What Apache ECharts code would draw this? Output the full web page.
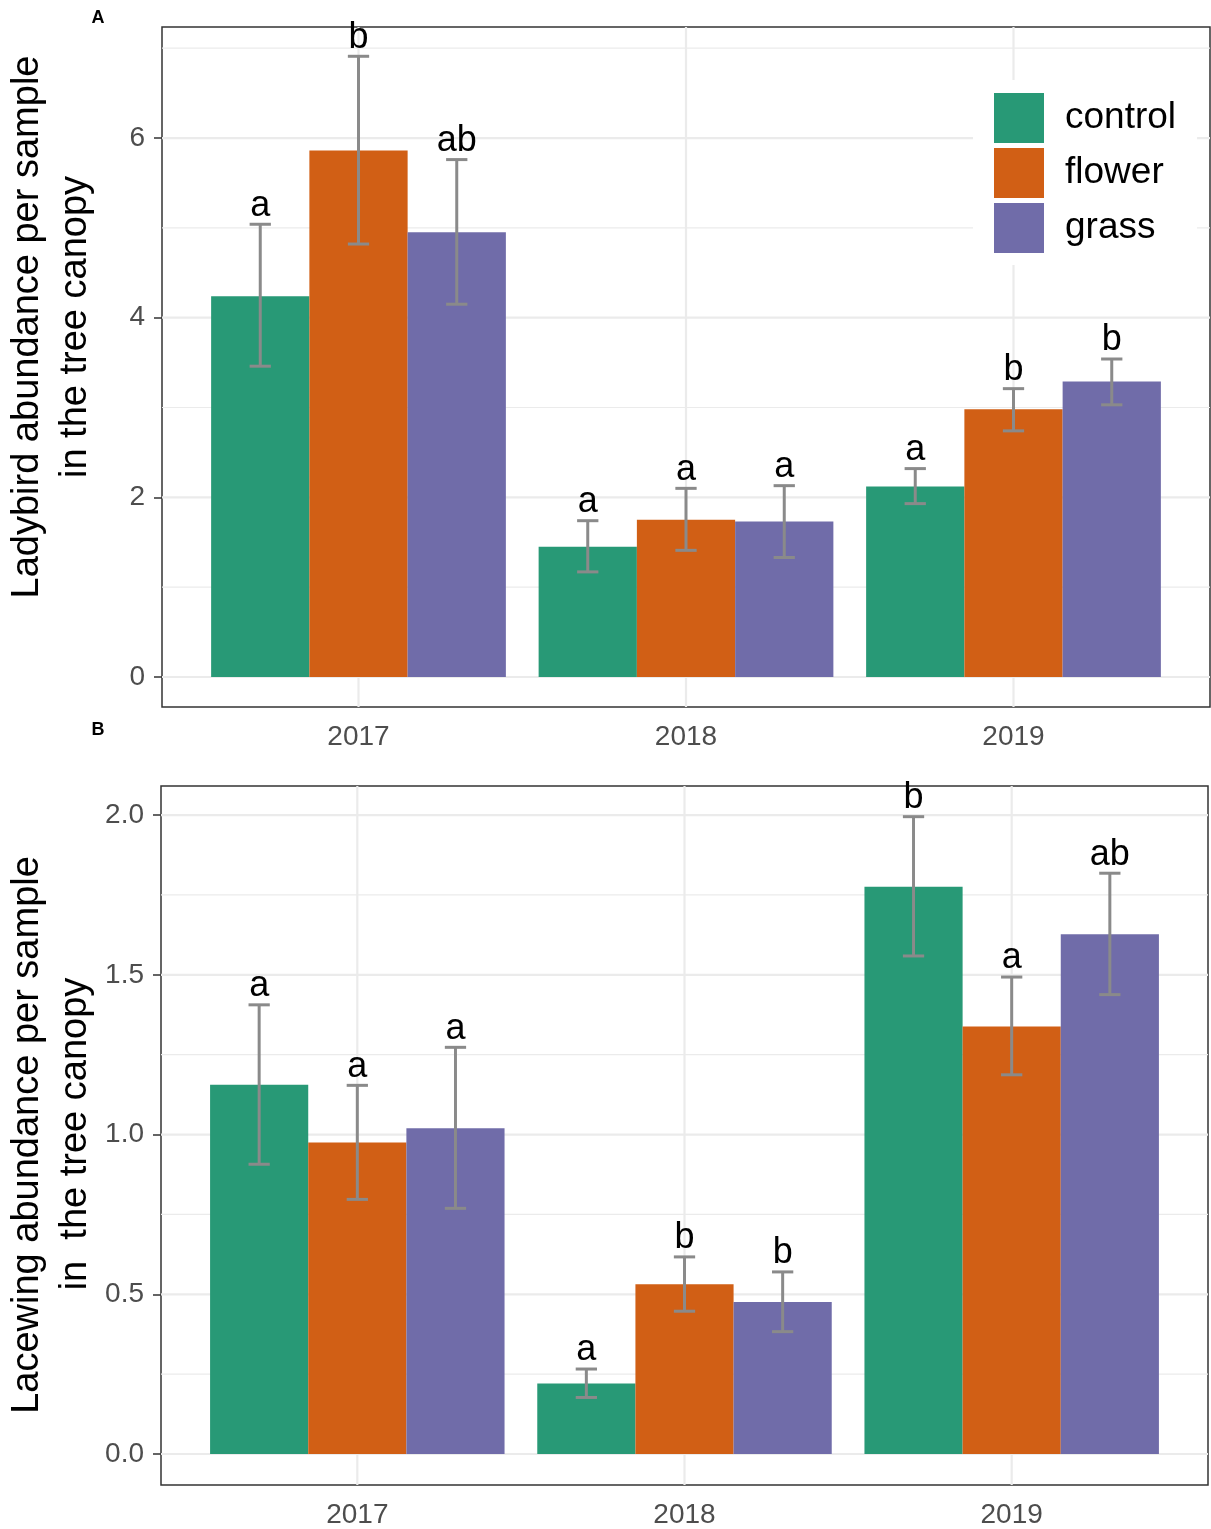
<!DOCTYPE html>
<html>
<head>
<meta charset="utf-8">
<script src="https://cdn.jsdelivr.net/npm/echarts@6/dist/echarts.min.js"></script>
<style>
html, body { margin: 0; padding: 0; background: #ffffff; }
#chart { width: 1211px; height: 1529px; }
</style>
</head>
<body>
<div id="chart"></div>
<script>
// Sampling years and field margin treatments
const years = ['2017', '2018', '2019'];
const treatments = ['control', 'flower', 'grass'];
const treatmentColors = ['#289976', '#d15f15', '#706ca9'];

// A: ladybird abundance per sample (mean, [lower, upper] error, letters)
const ladybirdControl = [4.24, 1.45, 2.12];
const ladybirdFlower = [5.86, 1.75, 2.98];
const ladybirdGrass = [4.95, 1.73, 3.29];
const ladybirdControlErr = [[3.46, 5.04], [1.17, 1.74], [1.93, 2.32]];
const ladybirdFlowerErr = [[4.82, 6.91], [1.41, 2.10], [2.74, 3.21]];
const ladybirdGrassErr = [[4.15, 5.76], [1.33, 2.13], [3.03, 3.54]];
const ladybirdControlLetters = ['a', 'a', 'a'];
const ladybirdFlowerLetters = ['b', 'a', 'b'];
const ladybirdGrassLetters = ['ab', 'a', 'b'];
const ladybirdTicks = [0, 2, 4, 6];
const ladybirdMinorTicks = [1, 3, 5, 7];

// B: lacewing abundance per sample
const lacewingControl = [1.156, 0.221, 1.776];
const lacewingFlower = [0.975, 0.531, 1.338];
const lacewingGrass = [1.020, 0.476, 1.627];
const lacewingControlErr = [[0.907, 1.406], [0.177, 0.266], [1.559, 1.995]];
const lacewingFlowerErr = [[0.797, 1.154], [0.447, 0.617], [1.187, 1.493]];
const lacewingGrassErr = [[0.769, 1.273], [0.383, 0.570], [1.438, 1.818]];
const lacewingControlLetters = ['a', 'a', 'b'];
const lacewingFlowerLetters = ['a', 'b', 'a'];
const lacewingGrassLetters = ['a', 'b', 'ab'];
const lacewingTicks = [0, 0.5, 1.0, 1.5, 2.0];
const lacewingMinorTicks = [0.25, 0.75, 1.25, 1.75];

const FONT = '"Liberation Sans", Arial, Helvetica, sans-serif';
const BAR_W = 0.3;       // bar width in category units (3 dodged bars = 0.9)
const CAP_W = 0.065;     // error bar cap width in category units
const X_MIN = 0.4, X_MAX = 3.6;
const ERR_COLOR = '#8a8a8a';
const GRID_COLOR = '#ebebeb';

function groupSeries(name, k, axisIdx, means, errs, letters) {
  const color = treatmentColors[k];
  return {
    type: 'custom',
    name: name,
    xAxisIndex: axisIdx,
    yAxisIndex: axisIdx,
    z: 3,
    clip: false,
    itemStyle: { color: color },
    data: means.map((m, i) => [i + 1, m]),
    encode: { x: 0, y: 1 },
    renderItem: function (params, api) {
      const i = params.dataIndex;
      const pos = api.value(0) + (k - 1) * BAR_W;
      const mean = api.value(1);
      const tl = api.coord([pos - BAR_W / 2, mean]);
      const br = api.coord([pos + BAR_W / 2, 0]);
      const top = api.coord([pos, errs[i][1]]);
      const bot = api.coord([pos, errs[i][0]]);
      const capL = api.coord([pos - CAP_W / 2, errs[i][1]])[0];
      const capR = api.coord([pos + CAP_W / 2, errs[i][1]])[0];
      const errStyle = { stroke: ERR_COLOR, lineWidth: 3 };
      return {
        type: 'group',
        children: [
          { type: 'rect', shape: { x: tl[0], y: tl[1], width: br[0] - tl[0], height: br[1] - tl[1] },
            style: { fill: color } },
          { type: 'line', shape: { x1: top[0], y1: top[1], x2: bot[0], y2: bot[1] }, style: errStyle },
          { type: 'line', shape: { x1: capL, y1: top[1], x2: capR, y2: top[1] }, style: errStyle },
          { type: 'line', shape: { x1: capL, y1: bot[1], x2: capR, y2: bot[1] }, style: errStyle },
          { type: 'text', style: { text: letters[i], x: top[0], y: top[1] - 0.5, align: 'center',
              verticalAlign: 'bottom', fontSize: 36, fill: '#000000', fontFamily: FONT } }
        ]
      };
    }
  };
}

function hGridSeries(axisIdx, majors, minors) {
  return {
    type: 'custom',
    xAxisIndex: axisIdx,
    yAxisIndex: axisIdx,
    z: 1,
    silent: true,
    data: majors.map(v => [X_MIN, v, 1]).concat(minors.map(v => [X_MIN, v, 0])),
    encode: { x: 0, y: 1 },
    renderItem: function (params, api) {
      const cs = params.coordSys;
      const y = api.coord([api.value(0), api.value(1)])[1];
      return { type: 'line', shape: { x1: cs.x, y1: y, x2: cs.x + cs.width, y2: y },
        style: { stroke: GRID_COLOR, lineWidth: api.value(2) ? 2.2 : 1.2 } };
    }
  };
}

function vGridSeries(axisIdx, yBase) {
  return {
    type: 'custom',
    xAxisIndex: axisIdx,
    yAxisIndex: axisIdx,
    z: 1,
    silent: true,
    data: years.map((y, i) => [i + 1, yBase]),
    encode: { x: 0, y: 1 },
    renderItem: function (params, api) {
      const cs = params.coordSys;
      const x = api.coord([api.value(0), api.value(1)])[0];
      return { type: 'line', shape: { x1: x, y1: cs.y, x2: x, y2: cs.y + cs.height },
        style: { stroke: GRID_COLOR, lineWidth: 2.2 } };
    }
  };
}

function xAxisFor(gridIdx) {
  return {
    type: 'value', gridIndex: gridIdx, min: X_MIN, max: X_MAX,
    axisLine: { show: false }, axisTick: { show: false }, splitLine: { show: false },
    axisLabel: { customValues: [1, 2, 3], formatter: v => years[Math.round(v) - 1],
      fontSize: 28, color: '#4d4d4d', margin: 16, fontFamily: FONT }
  };
}

function yAxisFor(gridIdx, min, max, ticks, fmt) {
  return {
    type: 'value', gridIndex: gridIdx, min: min, max: max,
    axisLine: { show: false }, splitLine: { show: false },
    axisTick: { show: true, customValues: ticks, length: 8, lineStyle: { color: '#333333', width: 1.5 } },
    axisLabel: { customValues: ticks, formatter: fmt, fontSize: 28, color: '#4d4d4d', margin: 17, fontFamily: FONT }
  };
}

const chart = echarts.init(document.getElementById('chart'), null, { renderer: 'canvas' });

chart.setOption({
  animation: false,
  backgroundColor: '#ffffff',
  textStyle: { fontFamily: FONT },
  grid: [
    { left: 162, top: 27, width: 1048, height: 680, show: true, borderColor: '#333333', borderWidth: 1.5, backgroundColor: 'transparent' },
    { left: 161, top: 786, width: 1047, height: 700, show: true, borderColor: '#333333', borderWidth: 1.5, backgroundColor: 'transparent' }
  ],
  xAxis: [xAxisFor(0), xAxisFor(1)],
  yAxis: [
    yAxisFor(0, -0.334, 7.236, ladybirdTicks, v => String(v)),
    yAxisFor(1, -0.097, 2.091, lacewingTicks, v => v.toFixed(1))
  ],
  legend: {
    data: treatments,
    orient: 'vertical',
    left: 973, top: 80,
    padding: [13, 21, 12, 21],
    backgroundColor: '#ffffff',
    icon: 'rect',
    itemWidth: 50, itemHeight: 50, itemGap: 5,
    selectedMode: false,
    z: 10,
    formatter: '{t|{name}}',
    textStyle: { rich: { t: { fontSize: 37, color: '#000000', fontFamily: FONT, padding: [0, 0, 0, 16] } } }
  },
  graphic: [
    { type: 'text', x: 98, y: 18, style: { text: 'A', fontSize: 18, fontWeight: 'bold', fill: '#000', align: 'center', verticalAlign: 'middle', fontFamily: FONT } },
    { type: 'text', x: 98, y: 730, style: { text: 'B', fontSize: 18, fontWeight: 'bold', fill: '#000', align: 'center', verticalAlign: 'middle', fontFamily: FONT } },
    { type: 'text', x: 28, y: 327, rotation: Math.PI / 2, style: { text: 'Ladybird abundance per sample', fontSize: 38, fill: '#000', align: 'center', verticalAlign: 'middle', fontFamily: FONT } },
    { type: 'text', x: 76, y: 327, rotation: Math.PI / 2, style: { text: 'in the tree canopy', fontSize: 38, fill: '#000', align: 'center', verticalAlign: 'middle', fontFamily: FONT } },
    { type: 'text', x: 28, y: 1135, rotation: Math.PI / 2, style: { text: 'Lacewing abundance per sample', fontSize: 38, fill: '#000', align: 'center', verticalAlign: 'middle', fontFamily: FONT } },
    { type: 'text', x: 76, y: 1134, rotation: Math.PI / 2, style: { text: 'in  the tree canopy', fontSize: 38, fill: '#000', align: 'center', verticalAlign: 'middle', fontFamily: FONT } }
  ],
  series: [
    hGridSeries(0, ladybirdTicks, ladybirdMinorTicks),
    vGridSeries(0, 0),
    groupSeries('control', 0, 0, ladybirdControl, ladybirdControlErr, ladybirdControlLetters),
    groupSeries('flower', 1, 0, ladybirdFlower, ladybirdFlowerErr, ladybirdFlowerLetters),
    groupSeries('grass', 2, 0, ladybirdGrass, ladybirdGrassErr, ladybirdGrassLetters),
    hGridSeries(1, lacewingTicks, lacewingMinorTicks),
    vGridSeries(1, 0),
    groupSeries('control', 0, 1, lacewingControl, lacewingControlErr, lacewingControlLetters),
    groupSeries('flower', 1, 1, lacewingFlower, lacewingFlowerErr, lacewingFlowerLetters),
    groupSeries('grass', 2, 1, lacewingGrass, lacewingGrassErr, lacewingGrassLetters)
  ]
});
</script>
</body>
</html>
